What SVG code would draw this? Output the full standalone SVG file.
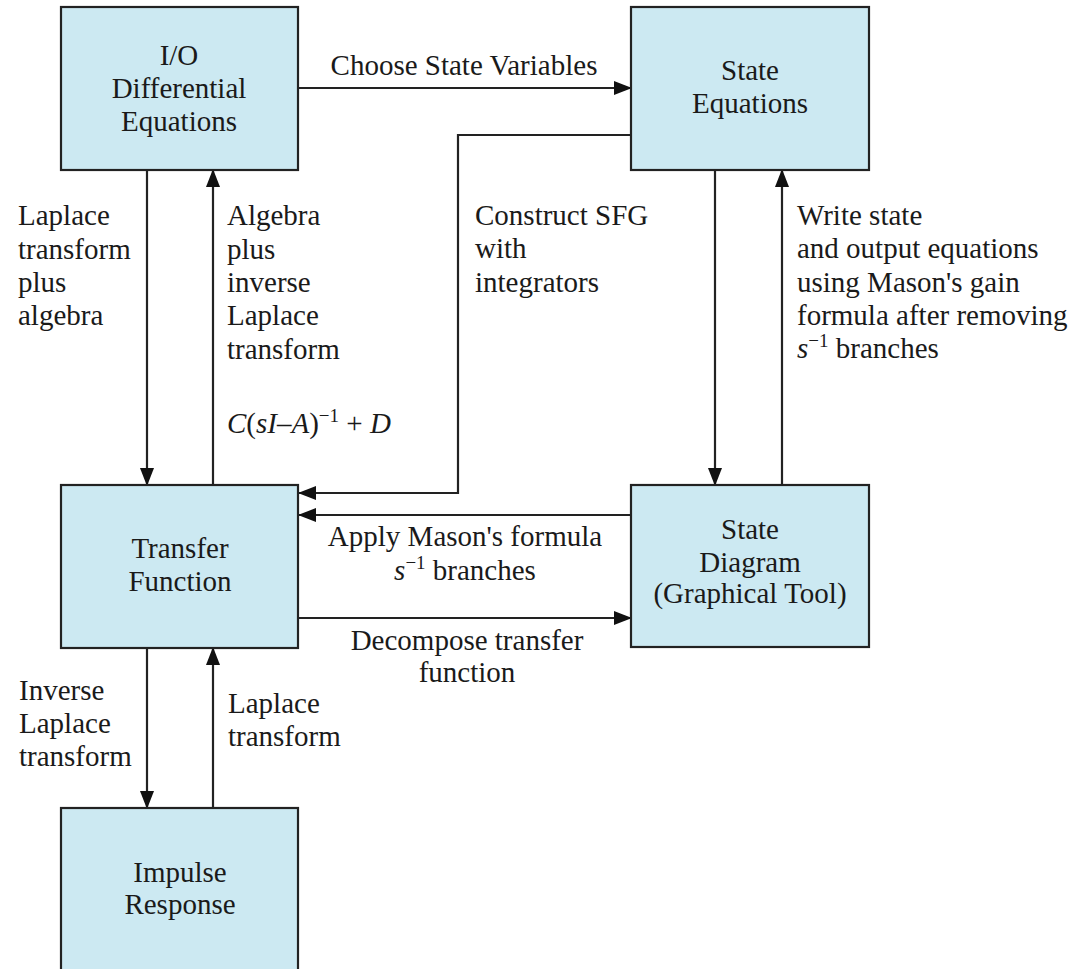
<svg xmlns="http://www.w3.org/2000/svg" width="1088" height="969" viewBox="0 0 1088 969">
<style>
.box{fill:#cce9f2;stroke:#222;stroke-width:2.2}
.ln{fill:none;stroke:#222;stroke-width:2.2}
text{font-family:"Liberation Serif","Times New Roman",serif;font-size:29px;fill:#1a1a1a}
.c{text-anchor:middle}
.i{font-style:italic}
.sup{font-size:19px}
</style>
<defs>
<marker id="ah" markerWidth="18" markerHeight="16" refX="17" refY="8" orient="auto" markerUnits="userSpaceOnUse">
<path d="M0,1 L18,8 L0,15 Z" fill="#111"/>
</marker>
</defs>
<rect width="1088" height="969" fill="#fff"/>
<g id="connectors">
<line class="ln" x1="298" y1="88" x2="631" y2="88" marker-end="url(#ah)"/>
<line class="ln" x1="147" y1="170" x2="147" y2="485" marker-end="url(#ah)"/>
<line class="ln" x1="213" y1="485" x2="213" y2="170" marker-end="url(#ah)"/>
<polyline class="ln" points="631,135 458,135 458,493 299,493" marker-end="url(#ah)"/>
<line class="ln" x1="715" y1="170" x2="715" y2="485" marker-end="url(#ah)"/>
<line class="ln" x1="782" y1="485" x2="782" y2="170" marker-end="url(#ah)"/>
<line class="ln" x1="631" y1="515" x2="299" y2="515" marker-end="url(#ah)"/>
<line class="ln" x1="299" y1="618" x2="631" y2="618" marker-end="url(#ah)"/>
<line class="ln" x1="147" y1="648" x2="147" y2="808" marker-end="url(#ah)"/>
<line class="ln" x1="213" y1="808" x2="213" y2="648" marker-end="url(#ah)"/>
</g>
<g id="labels">
<text class="c" x="464" y="75">Choose State Variables</text>
<text x="18" y="225">Laplace</text>
<text x="18" y="259">transform</text>
<text x="18" y="292">plus</text>
<text x="18" y="325">algebra</text>
<text x="227" y="225">Algebra</text>
<text x="227" y="259">plus</text>
<text x="227" y="292">inverse</text>
<text x="227" y="325">Laplace</text>
<text x="227" y="359">transform</text>
<text x="227" y="433"><tspan class="i">C</tspan>(<tspan class="i">sI</tspan>–<tspan class="i">A</tspan>)<tspan class="sup" dy="-11">−1</tspan><tspan dy="11"> + </tspan><tspan class="i">D</tspan></text>
<text x="475" y="225">Construct SFG</text>
<text x="475" y="258">with</text>
<text x="475" y="292">integrators</text>
<text x="797" y="225">Write state</text>
<text x="797" y="258">and output equations</text>
<text x="797" y="292">using Mason's gain</text>
<text x="797" y="325">formula after removing</text>
<text x="797" y="358"><tspan class="i">s</tspan><tspan class="sup" dy="-11">−1</tspan><tspan dy="11"> branches</tspan></text>
<text class="c" x="465" y="546">Apply Mason's formula</text>
<text class="c" x="465" y="580"><tspan class="i">s</tspan><tspan class="sup" dy="-11">−1</tspan><tspan dy="11"> branches</tspan></text>
<text class="c" x="467" y="650">Decompose transfer</text>
<text class="c" x="467" y="682">function</text>
<text x="19" y="700">Inverse</text>
<text x="19" y="733">Laplace</text>
<text x="19" y="766">transform</text>
<text x="228" y="713">Laplace</text>
<text x="228" y="746">transform</text>
</g>
<g id="node-io">
<rect class="box" x="61" y="7" width="237" height="163"/>
<text class="c" x="179" y="65">I/O</text>
<text class="c" x="179" y="98">Differential</text>
<text class="c" x="179" y="131">Equations</text>
</g>
<g id="node-state-eq">
<rect class="box" x="631" y="7" width="238" height="163"/>
<text class="c" x="750" y="80">State</text>
<text class="c" x="750" y="113">Equations</text>
</g>
<g id="node-tf">
<rect class="box" x="61" y="485" width="237" height="163"/>
<text class="c" x="180" y="558">Transfer</text>
<text class="c" x="180" y="591">Function</text>
</g>
<g id="node-sd">
<rect class="box" x="631" y="485" width="238" height="162"/>
<text class="c" x="750" y="539">State</text>
<text class="c" x="750" y="572">Diagram</text>
<text class="c" x="750" y="603">(Graphical Tool)</text>
</g>
<g id="node-impulse">
<rect class="box" x="61" y="808" width="237" height="180"/>
<text class="c" x="180" y="882">Impulse</text>
<text class="c" x="180" y="914">Response</text>
</g>
</svg>
